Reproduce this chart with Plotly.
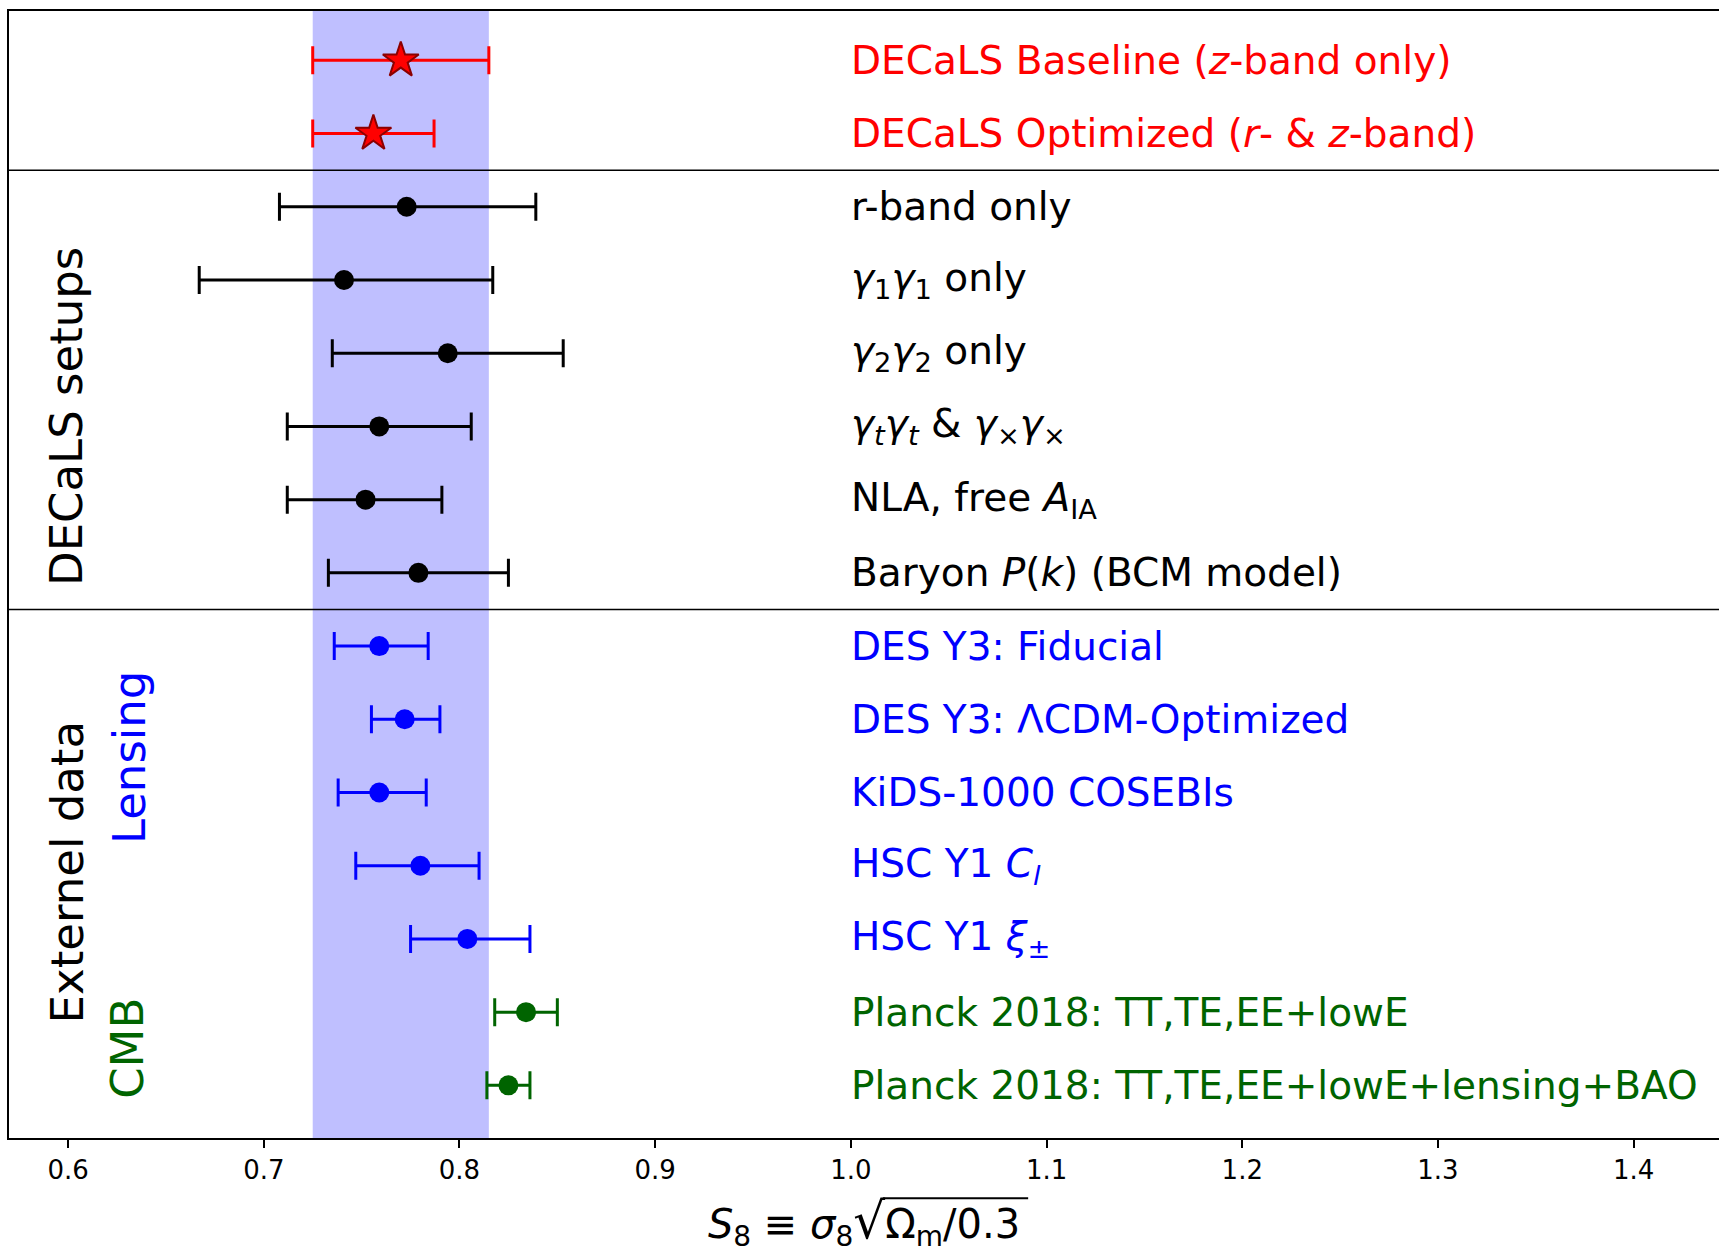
import plotly.graph_objects as go

# ---- data ----
labels = [
    "DECaLS Baseline (<i>z</i>-band only)",
    "DECaLS Optimized (<i>r</i>- &amp; <i>z</i>-band)",
    "r-band only",
    "<i>γ</i><sub>1</sub><i>γ</i><sub>1</sub> only",
    "<i>γ</i><sub>2</sub><i>γ</i><sub>2</sub> only",
    "<i>γ</i><sub><i>t</i></sub><i>γ</i><sub><i>t</i></sub> &amp; <i>γ</i><sub>×</sub><i>γ</i><sub>×</sub>",
    "NLA, free <i>A</i><sub>IA</sub>",
    "Baryon <i>P</i>(<i>k</i>) (BCM model)",
    "DES Y3: Fiducial",
    "DES Y3: ΛCDM-Optimized",
    "KiDS-1000 COSEBIs",
    "HSC Y1 <i>C</i><sub><i>l</i></sub>",
    "HSC Y1 <i>ξ</i><sub>±</sub>",
    "Planck 2018: TT,TE,EE+lowE",
    "Planck 2018: TT,TE,EE+lowE+lensing+BAO",
]
s8 = [0.770, 0.756, 0.773, 0.741, 0.794, 0.759, 0.752, 0.779,
      0.759, 0.772, 0.759, 0.780, 0.804, 0.834, 0.825]
err_minus = [0.045, 0.031, 0.065, 0.074, 0.059, 0.047, 0.040, 0.046,
             0.023, 0.017, 0.021, 0.033, 0.029, 0.016, 0.011]
err_plus = [0.045, 0.031, 0.066, 0.076, 0.059, 0.047, 0.039, 0.046,
            0.025, 0.018, 0.024, 0.030, 0.032, 0.016, 0.011]
groups = ["decals"] * 2 + ["setup"] * 6 + ["lensing"] * 5 + ["cmb"] * 2
band = [0.725, 0.815]
xticks = [0.6, 0.7, 0.8, 0.9, 1.0, 1.1, 1.2, 1.3, 1.4]
label_x = 0.999

styles = {
    "decals": dict(color="#ff0000", symbol="star", size=27, lw=2, lc="#8b0000"),
    "setup": dict(color="#000000", symbol="circle", size=20, lw=0, lc="#000000"),
    "lensing": dict(color="#0000ff", symbol="circle", size=20, lw=0, lc="#0000ff"),
    "cmb": dict(color="#006400", symbol="circle", size=20, lw=0, lc="#006400"),
}

FONT = "DejaVu Sans"
fig = go.Figure()

rows = list(range(len(labels)))
for g, st in styles.items():
    idx = [i for i in rows if groups[i] == g]
    fig.add_trace(go.Scatter(
        x=[s8[i] for i in idx],
        y=[rows[i] for i in idx],
        mode="markers",
        marker=dict(symbol=st["symbol"], size=st["size"], color=st["color"],
                    line=dict(color=st["lc"], width=st["lw"])),
        error_x=dict(type="data", symmetric=False,
                     array=[err_plus[i] for i in idx],
                     arrayminus=[err_minus[i] for i in idx],
                     color=st["color"], thickness=3, width=14),
        showlegend=False,
    ))

# text labels
for i, lab in enumerate(labels):
    fig.add_annotation(x=label_x, y=rows[i], text=lab, showarrow=False,
                       xanchor="left", yanchor="middle",
                       font=dict(family=FONT, size=39, color=styles[groups[i]]["color"]))

# shaded band
fig.add_shape(type="rect", xref="x", yref="paper", x0=band[0], x1=band[1], y0=0, y1=1,
              fillcolor="rgba(0,0,255,0.25)", line=dict(width=0), layer="below")

# separators
for yv in [1.5, 7.5]:
    fig.add_shape(type="line", xref="paper", yref="y", x0=0, x1=1, y0=yv, y1=yv,
                  line=dict(color="black", width=1.5))

# group labels
fig.add_annotation(x=0.5995, y=4.87, text="DECaLS setups", textangle=-90, showarrow=False,
                   font=dict(family=FONT, size=45, color="black"))
fig.add_annotation(x=0.5995, y=11.09, text="Externel data", textangle=-90, showarrow=False,
                   font=dict(family=FONT, size=45, color="black"))
fig.add_annotation(x=0.6315, y=9.52, text="Lensing", textangle=-90, showarrow=False,
                   font=dict(family=FONT, size=45, color="#0000ff"))
fig.add_annotation(x=0.630, y=13.49, text="CMB", textangle=-90, showarrow=False,
                   font=dict(family=FONT, size=45, color="#006400"))

# overline of the square root in the x-axis title
fig.add_shape(type="line", xref="paper", yref="paper", x0=0.511, x1=0.596,
              y0=-0.0535, y1=-0.0535, line=dict(color="black", width=2))

fig.update_layout(
    width=1719, height=1253,
    margin=dict(l=9, r=0, t=11, b=115),
    plot_bgcolor="white", paper_bgcolor="white",
    font=dict(family=FONT, color="black"),
    xaxis=dict(range=[0.5698, 1.4436], tickvals=xticks,
               ticktext=[f"{t:.1f}" for t in xticks],
               ticks="outside", ticklen=8, tickwidth=1.5, tickcolor="black",
               tickfont=dict(family=FONT, size=26, color="black"),
               showgrid=False, zeroline=False,
               showline=True, linecolor="black", linewidth=1.8, mirror=True,
               title=dict(text="<i>S</i><sub>8</sub> ≡ <i>σ</i><sub>8</sub><span style='font-size:50px'>√</span>Ω<sub>m</sub>/0.3",
                          font=dict(family=FONT, size=40, color="black"), standoff=30)),
    yaxis=dict(range=[14.719, -0.674], showticklabels=False, ticks="",
               showgrid=False, zeroline=False,
               showline=True, linecolor="black", linewidth=1.8, mirror=False),
)

fig.write_html("out.html")
